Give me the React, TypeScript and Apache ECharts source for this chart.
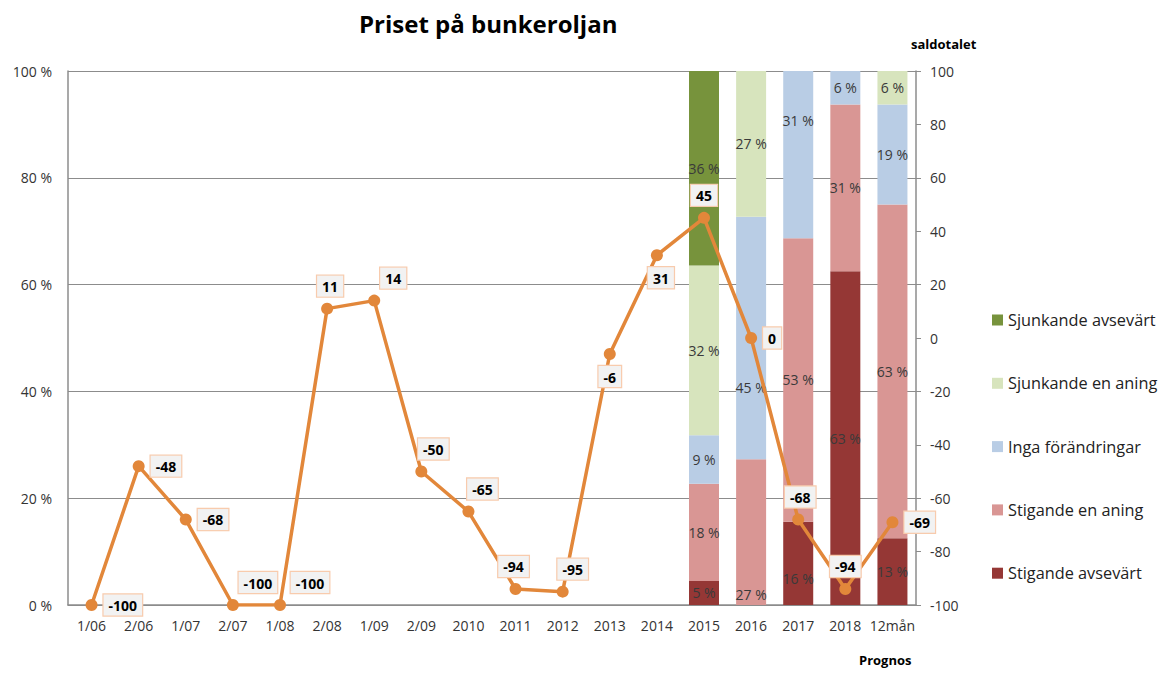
import React, { useEffect, useRef } from "react";
import * as echarts from "echarts";

const categories = ["1/06", "2/06", "1/07", "2/07", "1/08", "2/08", "1/09", "2/09", "2010", "2011", "2012", "2013", "2014", "2015", "2016", "2017", "2018", "12mån"];
const forecastStart = 13; // 2015 onwards have distribution bars

// Distribution (%), for 2015, 2016, 2017, 2018, 12mån
const stigandeAvsevart = [4.5, 0, 15.6, 62.5, 12.5];
const stigandeEnAning = [18.2, 27.3, 53.1, 31.25, 62.5];
const ingaForandringar = [9.1, 45.4, 31.3, 6.25, 18.75];
const sjunkandeEnAning = [31.8, 27.3, 0, 0, 6.25];
const sjunkandeAvsevart = [36.4, 0, 0, 0, 0];

// Saldotalet (right axis)
const saldotalet = [-100, -48, -68, -100, -100, 11, 14, -50, -65, -94, -95, -6, 31, 45, 0, -68, -94, -69];

const leftTicks = { min: 0, max: 100, interval: 20 };
const rightTicks = { min: -100, max: 100, interval: 20 };

// label placement for the line labels (style, not data)
const lineLabelPlacement: [string, number, number][] = [
  ["right", 0, 0], ["right", 0, 0], ["right", 0, 0], ["top", 25, 0], ["top", 30, 0],
  ["top", 3, 0], ["top", 19, 0], ["top", 12, 0], ["top", 14, 0], ["top", -2, 0],
  ["top", 10, 0], ["bottom", 0, 0], ["bottom", 4, 0], ["top", 0, 0], ["right", 0, 0],
  ["top", 2, 0], ["top", 0, 0], ["right", 0, 0],
];

const COLORS = {
  sjAvs: "#77933c",
  sjEn: "#d7e4bd",
  inga: "#b9cde5",
  stEn: "#d99694",
  stAvs: "#953735",
  line: "#e2873a",
};

const FONT = "'Open Sans', 'Noto Sans', sans-serif";

function padBars(vals: number[], offsets?: Record<number, any>) {
  const out: any[] = [];
  for (let i = 0; i < categories.length; i++) {
    if (i < forecastStart) {
      out.push(null);
    } else {
      const k = i - forecastStart;
      const v = vals[k];
      if (!v) {
        out.push(null);
      } else if (offsets && offsets[k]) {
        out.push({ value: v, label: offsets[k] });
      } else {
        out.push(v);
      }
    }
  }
  return out;
}

export default function App() {
  const ref = useRef<HTMLDivElement>(null);
  useEffect(() => {
    document.body.style.margin = "0";
    if (!ref.current) return;
    const chart = echarts.init(ref.current, undefined, { renderer: "svg" });

    const barLabel = {
      show: true,
      position: "inside",
      color: "#3a3a3a",
      fontSize: 14,
      fontFamily: FONT,
      formatter: (p: any) => Math.round(p.value) + " %",
    };

    const mkBar = (name: string, vals: number[], color: string, offsets?: Record<number, any>) => ({
      name,
      type: "bar",
      stack: "dist",
      yAxisIndex: 0,
      barWidth: 30,
      itemStyle: { color },
      label: barLabel,
      data: padBars(vals, offsets),
    });

    const lineData = saldotalet.map((v, i) => {
      const [pos, dx, dy] = lineLabelPlacement[i];
      return { value: v, label: { position: pos, offset: [dx, dy] } };
    });

    const option: any = {
      animation: false,
      textStyle: { fontFamily: FONT },
      grid: { left: 68, right: 247, top: 71, bottom: 68, containLabel: false },
      legend: {
        orient: "vertical",
        left: 987,
        top: 307,
        itemWidth: 11,
        itemHeight: 11,
        itemGap: 47.3,
        icon: "rect",
        textStyle: { fontSize: 16.3, color: "#222", fontFamily: FONT },
        data: ["Sjunkande avsevärt", "Sjunkande en aning", "Inga förändringar", "Stigande en aning", "Stigande avsevärt"],
      },
      graphic: [
        {
          type: "text",
          left: 359,
          top: 11,
          style: { text: "Priset på bunkeroljan", fontSize: 24, fontWeight: "bold", fill: "#000", fontFamily: FONT },
        },
        {
          type: "text",
          left: 911,
          top: 37,
          style: { text: "saldotalet", fontSize: 13, fontWeight: "bold", fill: "#000", fontFamily: FONT },
        },
        {
          type: "text",
          left: 859,
          top: 653,
          style: { text: "Prognos", fontSize: 13, fontWeight: "bold", fill: "#000", fontFamily: FONT },
        },
      ],
      xAxis: {
        type: "category",
        data: categories,
        boundaryGap: true,
        axisTick: { show: false },
        axisLine: { lineStyle: { color: "#8c8c8c", width: 1.5 } },
        axisLabel: { color: "#333", fontSize: 14, margin: 13, interval: 0, fontFamily: FONT },
      },
      yAxis: [
        {
          type: "value",
          min: leftTicks.min,
          max: leftTicks.max,
          interval: leftTicks.interval,
          axisLine: { show: true, lineStyle: { color: "#8c8c8c", width: 1.5 } },
          axisTick: { show: false },
          splitLine: { lineStyle: { color: "#8c8c8c", width: 1.2 } },
          axisLabel: { formatter: "{value} %", color: "#333", fontSize: 14, margin: 16, fontFamily: FONT },
        },
        {
          type: "value",
          min: rightTicks.min,
          max: rightTicks.max,
          interval: rightTicks.interval,
          position: "right",
          axisLine: { show: true, lineStyle: { color: "#8c8c8c", width: 1.5 } },
          axisTick: { show: true, inside: false, length: 5, lineStyle: { color: "#8c8c8c" } },
          splitLine: { show: false },
          axisLabel: { color: "#333", fontSize: 14, margin: 14, fontFamily: FONT },
        },
      ],
      series: [
        mkBar("Stigande avsevärt", stigandeAvsevart, COLORS.stAvs, { 2: { offset: [0, 15] } }),
        mkBar("Stigande en aning", stigandeEnAning, COLORS.stEn, { 1: { position: "insideBottom", distance: 4 } }),
        mkBar("Inga förändringar", ingaForandringar, COLORS.inga, { 1: { offset: [0, 49] }, 2: { offset: [0, -34] } }),
        mkBar("Sjunkande en aning", sjunkandeEnAning, COLORS.sjEn),
        mkBar("Sjunkande avsevärt", sjunkandeAvsevart, COLORS.sjAvs),
        {
          name: "saldotalet",
          type: "line",
          yAxisIndex: 1,
          data: lineData,
          symbol: "circle",
          symbolSize: 12,
          lineStyle: { color: COLORS.line, width: 3.5 },
          itemStyle: { color: COLORS.line },
          z: 5,
          label: {
            show: true,
            position: "right",
            distance: 6,
            color: "#000",
            fontWeight: "bold",
            fontSize: 14,
            fontFamily: FONT,
            backgroundColor: "#f2f2f2",
            borderColor: "#f8cbad",
            borderWidth: 1.2,
            padding: [4, 5, 3, 5],
          },
        },
      ],
    };
    chart.setOption(option);
    return () => chart.dispose();
  }, []);
  return <div ref={ref} style={{ width: 1163, height: 673 }} />;
}
